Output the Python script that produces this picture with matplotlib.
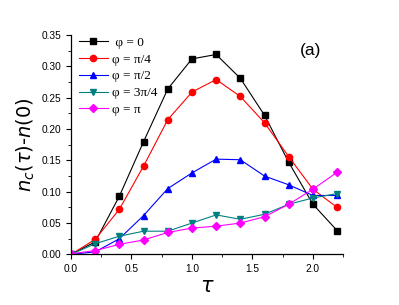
import matplotlib
matplotlib.use("Agg")
import matplotlib.pyplot as plt
from matplotlib.ticker import MultipleLocator

# time points
tau = [0.0, 0.2, 0.4, 0.6, 0.8, 1.0, 1.2, 1.4, 1.6, 1.8, 2.0, 2.2]

# n_c(tau) - n(0) for each phase
phi_0 = [0.0, 0.020, 0.093, 0.180, 0.264, 0.312, 0.319, 0.281, 0.222, 0.147, 0.080, 0.038]
phi_pi4 = [0.0, 0.024, 0.072, 0.141, 0.215, 0.259, 0.279, 0.252, 0.210, 0.156, 0.104, 0.075]
phi_pi2 = [0.0, 0.004, 0.025, 0.062, 0.105, 0.130, 0.152, 0.151, 0.125, 0.111, 0.094, 0.094]
phi_3pi4 = [0.0, 0.017, 0.029, 0.037, 0.037, 0.050, 0.063, 0.056, 0.064, 0.080, 0.090, 0.097]
phi_pi = [0.001, 0.006, 0.016, 0.023, 0.035, 0.042, 0.045, 0.050, 0.060, 0.080, 0.104, 0.131]

labels = [" \u03c6 = 0", "\u03c6 = \u03c0/4", "\u03c6 = \u03c0/2", "\u03c6 = 3\u03c0/4", "\u03c6 = \u03c0"]
colors = ["black", "red", "blue", "#008080", "magenta"]
markers = ["s", "o", "^", "v", "D"]
msizes = [4, 4.5, 4.5, 4.5, 3.8]

fig = plt.figure(figsize=(3.99, 3.05), dpi=100)
ax = fig.add_axes([0.178, 0.166, 0.682, 0.719])

for ys, lab, c, m, ms in zip([phi_0, phi_pi4, phi_pi2, phi_3pi4, phi_pi], labels, colors, markers, msizes):
    ax.plot(tau, ys, color=c, marker=m, markersize=ms, linewidth=0.8, label=lab)

ax.set_xlim(0, 2.25)
ax.set_ylim(0, 0.35)
ax.xaxis.set_major_locator(MultipleLocator(0.5))
ax.xaxis.set_minor_locator(MultipleLocator(0.25))
ax.yaxis.set_major_locator(MultipleLocator(0.05))
ax.yaxis.set_minor_locator(MultipleLocator(0.025))
ax.xaxis.set_major_formatter(matplotlib.ticker.FormatStrFormatter("%.1f"))
ax.yaxis.set_major_formatter(matplotlib.ticker.FormatStrFormatter("%.2f"))

for side in ["top", "right"]:
    ax.spines[side].set_visible(False)
for side in ["left", "bottom"]:
    ax.spines[side].set_linewidth(0.9)
ax.tick_params(which="major", direction="out", length=3.5, width=0.8, labelsize=7.3,
               labelfontfamily="Liberation Sans")
ax.tick_params(which="minor", direction="out", length=2, width=0.6)

ax.set_xlabel(r"$\tau$", fontsize=15, family="DejaVu Serif", labelpad=2)
ax.set_ylabel(r"$n_c(\tau)$-$n(0)$", fontsize=14, labelpad=3)

ax.text(0.88, 0.93, "(a)", transform=ax.transAxes, fontsize=12.5, family="Liberation Sans",
        ha="center", va="center")

ax.legend(loc="upper left", frameon=False, prop={"family": "Liberation Serif", "size": 9.5},
          handlelength=2.2, handletextpad=0.3, labelspacing=0.35,
          borderaxespad=0.2, bbox_to_anchor=(0.0, 1.03))

fig.savefig("out.png", dpi=100)
